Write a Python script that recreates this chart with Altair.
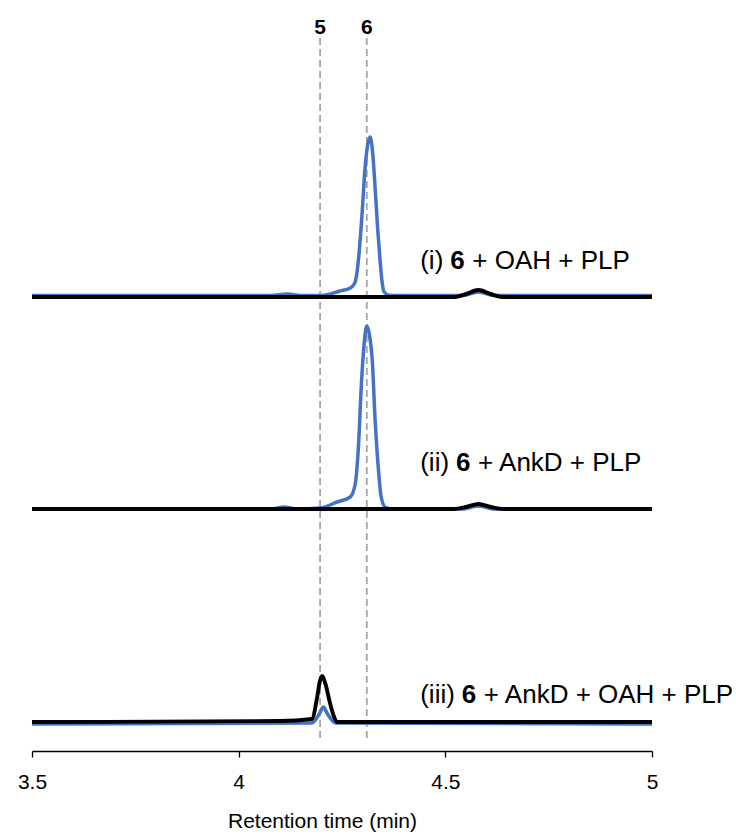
import altair as alt
import pandas as pd

# ---------------- data ----------------
# Trace (i): 6 + OAH + PLP
t_i_blue = [3.5, 4.08, 4.117, 4.15, 4.2, 4.245, 4.27, 4.281, 4.29, 4.298, 4.306, 4.312,
            4.318, 4.324, 4.33, 4.336, 4.342, 4.347, 4.352, 4.366, 4.54, 4.58, 4.62, 5.0]
v_i_blue = [1.5, 1.5, 3, 1.5, 1.5, 6, 9, 14, 38, 80, 130, 152,
            160, 145, 110, 70, 37, 15, 5, 1.5, 1.5, 5, 1.5, 1.5]
t_i_black = [3.5, 4.52, 4.55, 4.58, 4.61, 4.64, 5.0]
v_i_black = [0, 0, 3, 7, 3, 0, 0]

# Trace (ii): 6 + AnkD + PLP
t_ii_blue = [3.5, 4.08, 4.11, 4.14, 4.197, 4.238, 4.27, 4.282, 4.289, 4.298, 4.304, 4.31,
             4.316, 4.323, 4.33, 4.338, 4.344, 4.354, 4.37, 4.54, 4.58, 4.62, 5.0]
v_ii_blue = [0, 0, 2, 0, 1, 7, 12, 25, 57, 133, 167, 183,
             175, 150, 90, 40, 14, 2, 0, 0, 3, 0, 0]
t_ii_black = [3.5, 4.52, 4.55, 4.58, 4.61, 4.64, 5.0]
v_ii_black = [0, 0, 2, 5, 2, 0, 0]

# Trace (iii): 6 + AnkD + OAH + PLP
t_iii_blue = [3.5, 4.177, 4.195, 4.205, 4.215, 4.235, 5.0]
v_iii_blue = [-2, -1, 8, 15, 8, -1, -2]
t_iii_black = [3.5, 4.1, 4.177, 4.19, 4.196, 4.202, 4.21, 4.221, 4.23, 4.238, 4.26, 5.0]
v_iii_black = [0, 1, 3, 25, 40, 46, 38, 19, 6, 0, 0, 0]

trace_names = ["i", "ii", "iii"]
trace_offsets = [454, 242, 29]          # vertical stacking of the traces

marker_labels = ["5", "6"]
marker_times = [4.197, 4.31]

label_prefix = ["(i)", "(ii)", "(iii)"]
label_bold = ["6", "6", "6"]
label_suffix = ["+ OAH + PLP", "+ AnkD + PLP", "+ AnkD + OAH + PLP"]
label_time = [4.512, 4.526, 4.540]
label_rise = [36, 46, 27]

x_ticks = [3.5, 4, 4.5, 5]

# ---------------- build tables ----------------
series = {
    ("i", "blue"): (t_i_blue, v_i_blue),
    ("i", "black"): (t_i_black, v_i_black),
    ("ii", "blue"): (t_ii_blue, v_ii_blue),
    ("ii", "black"): (t_ii_black, v_ii_black),
    ("iii", "blue"): (t_iii_blue, v_iii_blue),
    ("iii", "black"): (t_iii_black, v_iii_black),
}
offset = dict(zip(trace_names, trace_offsets))
rows = []
for (tr, col), (ts, vs) in series.items():
    for k, (t, v) in enumerate(zip(ts, vs)):
        rows.append({"trace": tr, "series": col, "time": t, "y": offset[tr] + v, "k": k})
df = pd.DataFrame(rows)

df_mark = pd.DataFrame({"label": marker_labels, "time": marker_times})
df_lab = pd.DataFrame({
    "prefix": label_prefix, "bold": label_bold, "suffix": label_suffix,
    "time": label_time,
    "y": [o + r for o, r in zip(trace_offsets, label_rise)],
})

FONT = "Liberation Sans"
LFS = 26
AFS = 21

xscale = alt.Scale(domain=[3.5, 5], nice=False, zero=False)
yscale = alt.Scale(domain=[0, 731], nice=False, zero=False)

xaxis = alt.Axis(
    values=x_ticks, format="~g", title="Retention time (min)",
    grid=False, domainColor="black", domainWidth=1.3, tickColor="black",
    tickSize=6, tickWidth=1.3, labelFontSize=AFS, labelFont=FONT, labelColor="black",
    labelFlush=False, labelPadding=14, titleFont=FONT, titleFontSize=AFS,
    titleFontWeight="normal", titleColor="black", titlePadding=18,
    titleX=290, titleAlign="center", titleAnchor="middle",
)

rules = alt.Chart(df_mark).mark_rule(
    color="#A6A6A6", strokeWidth=1.8, strokeDash=[7, 4]
).encode(
    x=alt.X("time:Q", scale=xscale, axis=xaxis),
    y=alt.value(18), y2=alt.value(722),
)

color_map = {"blue": "#4472C4", "black": "#000000"}

def trace_layer(color, width):
    return alt.Chart(df[df.series == color]).mark_line(
        color=color_map[color], strokeWidth=width, interpolate="monotone"
    ).encode(
        x=alt.X("time:Q", scale=xscale),
        y=alt.Y("y:Q", scale=yscale, axis=None),
        detail="trace:N",
        order="k:Q",
    )

blue = trace_layer("blue", 3.5)
black = trace_layer("black", 3.9)

top_labels = alt.Chart(df_mark).mark_text(
    font=FONT, fontSize=21, fontWeight="bold", color="black", baseline="middle"
).encode(
    x=alt.X("time:Q", scale=xscale), y=alt.value(8), text="label:N"
)

base_lab = alt.Chart(df_lab).encode(
    x=alt.X("time:Q", scale=xscale), y=alt.Y("y:Q", scale=yscale)
)
lab_prefix = base_lab.mark_text(
    font=FONT, fontSize=LFS, color="black", align="right", baseline="middle", dx=-7
).encode(text="prefix:N")
lab_bold = base_lab.mark_text(
    font=FONT, fontSize=LFS, fontWeight="bold", color="black", align="left", baseline="middle"
).encode(text="bold:N")
lab_suffix = base_lab.mark_text(
    font=FONT, fontSize=LFS, color="black", align="left", baseline="middle", dx=round(LFS * 0.84)
).encode(text="suffix:N")

chart = alt.layer(
    rules, blue, black, top_labels, lab_prefix, lab_bold, lab_suffix
).properties(
    width=620, height=731,
    autosize=alt.AutoSizeParams(type="none"),
    padding={"left": 32, "top": 20, "right": 84, "bottom": 85},
    background="white",
).configure_view(stroke=None)

chart.save("out.html", embed_options={"renderer": "svg", "actions": False})
